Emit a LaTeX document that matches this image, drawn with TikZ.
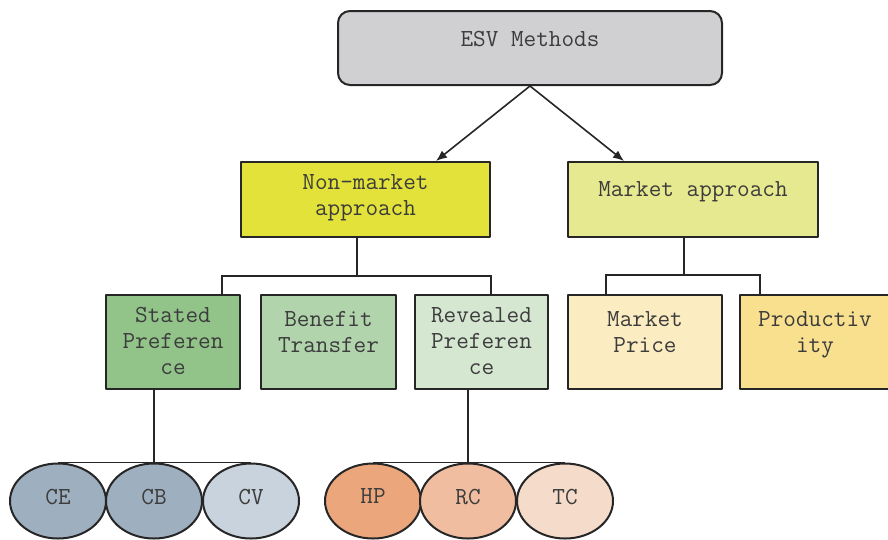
\documentclass[tikz,border=0pt]{standalone}
\usepackage{fontspec}
\usetikzlibrary{shapes.geometric, positioning, backgrounds, arrows.meta, calc}
\definecolor{boxline}{HTML}{262626}
\definecolor{txt}{HTML}{3C3C3C}
\definecolor{esvgray}{HTML}{D0D0D2}
\definecolor{nmyellow}{HTML}{E3E23A}
\definecolor{mkyellow}{HTML}{E6E98F}
\definecolor{spgreen}{HTML}{92C48A}
\definecolor{btgreen}{HTML}{B1D4AC}
\definecolor{rpgreen}{HTML}{D5E6D1}
\definecolor{mpcream}{HTML}{FBECC1}
\definecolor{prgold}{HTML}{F8E08F}
\definecolor{cedark}{HTML}{9EAFC0}
\definecolor{cvlight}{HTML}{C8D3DD}
\definecolor{hporange}{HTML}{EBA67B}
\definecolor{rcorange}{HTML}{F0BDA0}
\definecolor{tcorange}{HTML}{F5DCCA}
\tikzset{>={Latex[length=11pt,width=9pt]}}
\tikzset{box/.style={draw=boxline, line width=2pt, inner sep=0pt}}
\tikzset{lbl/.style={inner sep=0pt, align=center, text=txt,
    font=\ttfamily\fontsize{24.5}{26}\selectfont}}
\tikzset{oval/.style={ellipse, draw=boxline, line width=2pt, inner sep=0pt,
    minimum width=96pt, minimum height=75pt, text depth=9pt, text=txt,
    font=\ttfamily\fontsize{24.5}{26}\selectfont}}
\tikzset{link/.style={draw=boxline, line width=1.6pt}}

\begin{document}
\begin{tikzpicture}[x=1pt, y=-1pt, line join=round]
\useasboundingbox (0,0) rectangle (888,539);

% top level
\node[box, fill=esvgray, rounded corners=12pt, minimum width=384pt, minimum height=74pt] (esv) at (530,48) {};
\node[lbl, below=21pt of esv.north] {ESV Methods};

\node[box, fill=nmyellow, minimum width=249pt, minimum height=75pt] (nm) at (365.5,199.5) {};
\node[lbl, below=13pt of nm.north] {Non-market\\approach};
\node[box, fill=mkyellow, minimum width=250pt, minimum height=75pt] (mk) at (693,199.5) {};
\node[lbl, below=20pt of mk.north] {Market approach};

% second level
\node[box, fill=spgreen, minimum width=134pt, minimum height=94pt] (sp) at (173,342) {};
\node[lbl, below=13pt of sp.north] {Stated\\Preferen\\ce};
\node[box, fill=btgreen, minimum width=135pt, minimum height=94pt] (bt) at (328.5,342) {};
\node[lbl, below=17pt of bt.north] {Benefit\\Transfer};
\node[box, fill=rpgreen, minimum width=133pt, minimum height=94pt] (rp) at (481.5,342) {};
\node[lbl, below=13pt of rp.north] {Revealed\\Preferen\\ce};
\node[box, fill=mpcream, minimum width=154pt, minimum height=94pt] (mp) at (645,342) {};
\node[lbl, below=17pt of mp.north] {Market\\Price};
\node[box, fill=prgold, minimum width=150pt, minimum height=94pt] (pr) at (815,342) {};
\node[lbl, below=17pt of pr.north] {Productiv\\ity};

% methods
\node[oval, fill=cedark] (ce) at (58,501) {CE};
\node[oval, fill=cedark] (cb) at (154,501) {CB};
\node[oval, fill=cvlight] (cv) at (251,501) {CV};
\node[oval, fill=hporange] (hp) at (373,501) {HP};
\node[oval, fill=rcorange] (rc) at (468,501) {RC};
\node[oval, fill=tcorange] (tc) at (565,501) {TC};

\coordinate (nmJ) at (357,276);
\coordinate (nmL) at (222,276);
\coordinate (nmR) at (491,276);
\coordinate (mkJ) at (684,275);
\coordinate (mkL) at (606,275);
\coordinate (mkR) at (760,275);

\begin{scope}[on background layer]
\draw[link] (nmJ |- nm.south) -- (nmJ);
\draw[link] (nmL |- sp.north) -- (nmL) -- (nmR) -- (nmR |- rp.north);
\draw[link] (mkJ |- mk.south) -- (mkJ);
\draw[link] (mkL |- mp.north) -- (mkL) -- (mkR) -- (mkR |- pr.north);
\draw[link] (sp.south -| cb.north) -- (cb.north);
\draw[link] (ce.north) -- (cv.north);
\draw[link] (rp.south -| rc.north) -- (rc.north);
\draw[link] (hp.north) -- (tc.north);
\end{scope}

\draw[link, ->] (esv.south) -- ($(nm.north east)+(-55,0)$);
\draw[link, ->] (esv.south) -- ($(mk.north west)+(57,0)$);
\end{tikzpicture}
\end{document}
